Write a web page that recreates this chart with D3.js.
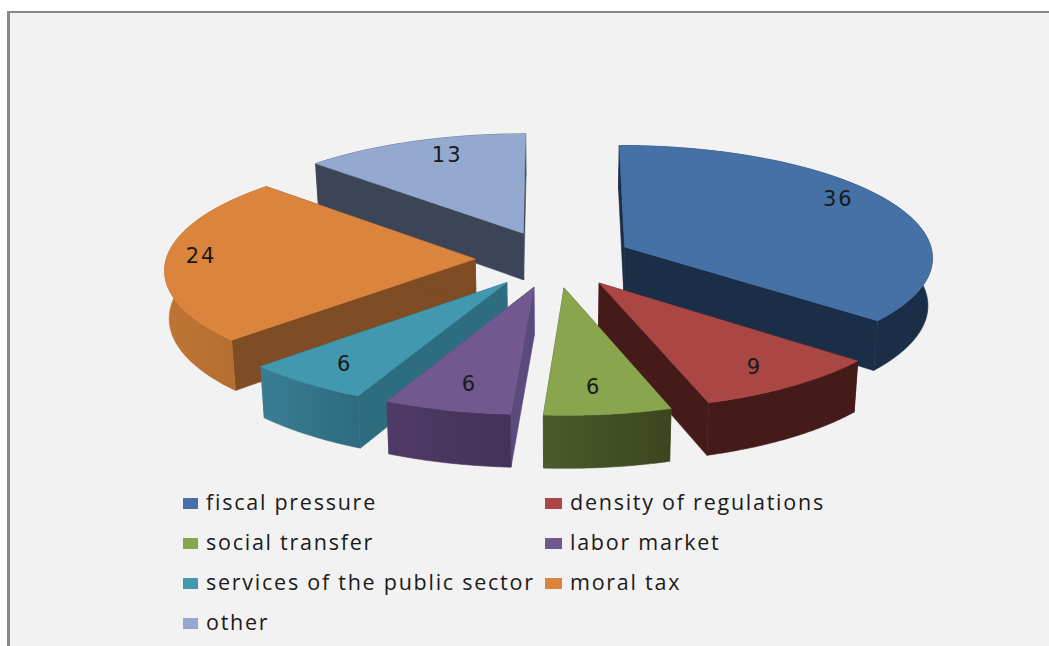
<!DOCTYPE html>
<html>
<head>
<meta charset="utf-8">
<script src="https://cdn.jsdelivr.net/npm/d3@7"></script>
<style>
  html, body { margin: 0; padding: 0; background: #ffffff; }
  svg { display: block; }
  text { font-family: "Open Sans", sans-serif; fill: #1a1a1a; }
</style>
</head>
<body>
<svg id="chart" width="1049" height="646"></svg>
<script>
// Survey shares, clockwise from twelve o'clock
const categories = ["fiscal pressure", "density of regulations", "social transfer", "labor market",
                    "services of the public sector", "moral tax", "other"];
const shares = [36, 9, 6, 6, 6, 24, 13];

const topColors  = ["#4571a7", "#aa4643", "#89a54e", "#71588f", "#4198af", "#db843d", "#93a9cf"];
const rimLight   = ["#1b2e47", "#451b19", "#4b5a2b", "#4f3b66", "#3a7d92", "#bf7534", "#3b4557"];
const rimDark    = ["#1b2e47", "#451b19", "#3b4620", "#44325a", "#2e6b7f", "#b06b2f", "#3b4557"];
const cutColors  = ["#1b2e47", "#451b19", "#4b5a2b", "#5c4a7e", "#2e6d80", "#7f4c24", "#3b4557"];

const labelNudgeX = [-1, 2, -6, 3, -4, -28, 12];
const labelNudgeY = [-12, 3, 0, 0, 2, -3, -4];

// Perspective view of the tilted pie
const view = { cx: 554, cy: 259, sx: 309, sy: 111.8, persp: 0.083, explode: 0.255, depth: 47.5, taper: 0.012 };

function project(u, v, low) {
  const w = 1 / (1 - view.persp * v);
  const s = 1 - view.taper * low;
  return [view.cx + view.sx * u * w * s, view.cy + view.sy * v * w + view.depth * w * low];
}

const pie = d3.pie().sort(null).value(d => d);
const arcs = pie(shares).map((a, i) => {
  const mid = (a.startAngle + a.endAngle) / 2;
  return { ...a, i, mid, ox: view.explode * Math.sin(mid), oy: -view.explode * Math.cos(mid) };
});

function planePoint(a, r, theta) {
  return [a.ox + r * Math.sin(theta), a.oy - r * Math.cos(theta)];
}
function rimAngles(a) {
  return d3.range(0, 61).map(k => a.startAngle + (a.endAngle - a.startAngle) * k / 60);
}

const line = d3.line();
const svg = d3.select("#chart");
const defs = svg.append("defs");

// Panel with its grey top and left edge
svg.append("rect").attr("x", 7).attr("y", 11).attr("width", 1042).attr("height", 635).attr("fill", "#f2f2f2");
svg.append("rect").attr("x", 7).attr("y", 11).attr("width", 1042).attr("height", 2).attr("fill", "#888888");
svg.append("rect").attr("x", 7).attr("y", 11).attr("width", 3).attr("height", 635).attr("fill", "#888888");

// Back slices first so nearer ones overlap them
const order = arcs.slice().sort((p, q) => p.oy - q.oy);
const slices = svg.append("g").selectAll("g").data(order).join("g");

slices.each(function (a) {
  const g = d3.select(this);
  const angles = rimAngles(a);
  const apexTop = project(a.ox, a.oy, 0), apexLow = project(a.ox, a.oy, 1);

  // Cut faces on both sides of the wedge
  [a.startAngle, a.endAngle].forEach(t => {
    const p = planePoint(a, 1, t);
    g.append("path")
      .attr("d", line([apexTop, project(p[0], p[1], 0), project(p[0], p[1], 1), apexLow]) + "Z")
      .attr("fill", cutColors[a.i])
      .attr("stroke", cutColors[a.i]).attr("stroke-width", 0.6);
  });

  // Curved outer wall, shaded left to right
  const upper = angles.map(t => { const p = planePoint(a, 1, t); return project(p[0], p[1], 0); });
  const lower = angles.map(t => { const p = planePoint(a, 1, t); return project(p[0], p[1], 1); }).reverse();
  const xs = d3.extent(upper, d => d[0]);
  const gradId = "rim" + a.i;
  const grad = defs.append("linearGradient").attr("id", gradId).attr("gradientUnits", "userSpaceOnUse")
    .attr("x1", xs[0]).attr("x2", xs[1]).attr("y1", 0).attr("y2", 0);
  grad.append("stop").attr("offset", 0).attr("stop-color", rimLight[a.i]);
  grad.append("stop").attr("offset", 1).attr("stop-color", rimDark[a.i]);
  g.append("path").attr("d", line(upper.concat(lower)) + "Z")
    .attr("fill", `url(#${gradId})`)
    .attr("stroke", `url(#${gradId})`).attr("stroke-width", 0.6);

  // Top face
  g.append("path").attr("d", line([apexTop].concat(upper)) + "Z")
    .attr("fill", topColors[a.i])
    .attr("stroke", topColors[a.i]).attr("stroke-width", 0.5);
});

// Value labels near the outer end of each slice
svg.append("g").selectAll("text").data(arcs).join("text")
  .attr("text-anchor", "middle")
  .attr("dominant-baseline", "central")
  .style("font-family", "'DejaVu Sans', sans-serif")
  .style("font-size", "21px")
  .style("letter-spacing", "2px")
  .attr("x", a => {
    const u = a.ox + 0.8 * Math.sin(a.mid), v = a.oy - 0.8 * Math.cos(a.mid);
    return project(u, v, 0)[0] + labelNudgeX[a.i] + 1;
  })
  .attr("y", a => {
    const u = a.ox + 0.8 * Math.sin(a.mid), v = a.oy - 0.8 * Math.cos(a.mid);
    return project(u, v, 0)[1] + labelNudgeY[a.i];
  })
  .text(a => shares[a.i]);

// Legend: two columns, four rows
const legendX = d3.scaleOrdinal().domain([0, 1]).range([183, 545]);
const legendY = d3.scalePoint().domain([0, 1, 2, 3]).range([503, 623]);
const legend = svg.append("g").selectAll("g").data(categories).join("g")
  .attr("transform", (d, i) => `translate(${legendX(i % 2)},${legendY(Math.floor(i / 2))})`);
legend.append("rect").attr("x", 0).attr("y", -5).attr("width", (d, i) => (i % 2 ? 17 : 15)).attr("height", 11)
  .attr("fill", (d, i) => topColors[i]);
legend.append("text").attr("x", (d, i) => (i % 2 ? 25 : 23)).attr("y", 7)
  .style("font-size", "21.5px").style("letter-spacing", "1.75px").text(d => d);
</script>
</body>
</html>
